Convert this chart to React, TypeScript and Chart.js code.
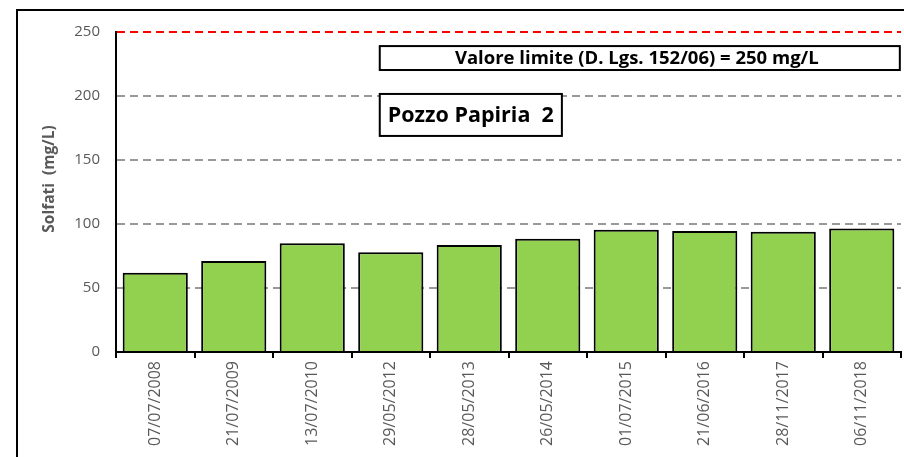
import React, { useEffect, useRef } from 'react';
import { Chart, registerables } from 'chart.js';

Chart.register(...registerables);

const categories = [
  '07/07/2008', '21/07/2009', '13/07/2010', '29/05/2012', '28/05/2013',
  '26/05/2014', '01/07/2015', '21/06/2016', '28/11/2017', '06/11/2018',
];
const solfati = [62, 71, 85, 78, 83.5, 88.5, 95.5, 94.5, 94, 96.5];
const yMin = 0;
const yMax = 250;
const yStep = 50;
const limitValue = 250;
const limitLabel = 'Valore limite (D. Lgs. 152/06) = 250 mg/L';
const wellLabel = 'Pozzo Papiria  2';
const yTitle = 'Solfati  (mg/L)';

const FONT = '"Open Sans", "Noto Sans", sans-serif';

const framePlugin = {
  id: 'frame',
  beforeDraw(chart: any) {
    const { ctx, width, height } = chart;
    ctx.save();
    ctx.fillStyle = '#ffffff';
    ctx.fillRect(0, 0, width, height);
    ctx.strokeStyle = '#000000';
    ctx.lineWidth = 2;
    ctx.beginPath();
    ctx.moveTo(17, height + 5);
    ctx.lineTo(17, 10);
    ctx.lineTo(width + 5, 10);
    ctx.stroke();
    ctx.restore();
  },
};

const boxesPlugin = {
  id: 'boxes',
  afterDraw(chart: any) {
    const { ctx, chartArea, scales } = chart;
    const y = scales.y;
    const w = chartArea.right - chartArea.left;
    const fx = (f: number) => chartArea.left + f * w;
    ctx.save();
    // y axis title
    ctx.save();
    ctx.translate(50, (chartArea.top + chartArea.bottom) / 2 - 13);
    ctx.rotate(-Math.PI / 2);
    ctx.fillStyle = '#595959';
    ctx.font = `bold 15.5px ${FONT}`;
    ctx.textAlign = 'center';
    ctx.textBaseline = 'middle';
    ctx.fillText(yTitle, 0, 0);
    ctx.restore();

    ctx.lineWidth = 2;
    ctx.strokeStyle = '#000';
    ctx.fillStyle = '#fff';
    // limit box
    let x1 = fx(0.336), x2 = fx(0.9985);
    let y1 = y.getPixelForValue(239), y2 = y.getPixelForValue(220.3);
    ctx.fillRect(x1, y1, x2 - x1, y2 - y1);
    ctx.strokeRect(x1, y1, x2 - x1, y2 - y1);
    ctx.fillStyle = '#000';
    ctx.font = `bold 18.5px ${FONT}`;
    ctx.textAlign = 'center';
    ctx.textBaseline = 'middle';
    ctx.fillText(limitLabel, (x1 + x2) / 2 - 3, (y1 + y2) / 2 + 1);
    // well box
    x1 = fx(0.336); x2 = fx(0.568);
    y1 = y.getPixelForValue(201.6); y2 = y.getPixelForValue(168.8);
    ctx.fillStyle = '#fff';
    ctx.fillRect(x1, y1, x2 - x1, y2 - y1);
    ctx.strokeRect(x1, y1, x2 - x1, y2 - y1);
    ctx.fillStyle = '#000';
    ctx.font = `bold 21.5px ${FONT}`;
    ctx.textAlign = 'left';
    ctx.fillText(wellLabel, x1 + 8, (y1 + y2) / 2 + 1);
    ctx.restore();
  },
};

export default function App() {
  const ref = useRef<HTMLCanvasElement>(null);
  useEffect(() => {
    const canvas = ref.current!;
    const chart = new Chart(canvas, {
      type: 'bar',
      data: {
        labels: categories,
        datasets: [
          {
            data: solfati,
            backgroundColor: '#92D050',
            borderColor: '#000000',
            borderWidth: 2,
            barPercentage: 0.83,
            categoryPercentage: 1,
          },
        ],
      },
      options: {
        responsive: false,
        animation: false,
        layout: { padding: { left: 20, top: 32, right: 3, bottom: 0 } },
        plugins: { legend: { display: false }, tooltip: { enabled: false } },
        scales: {
          x: {
            type: 'category',
            afterFit(scale: any) { scale.height = 105; },
            grid: {
              offset: true,
              drawOnChartArea: false,
              drawTicks: true,
              tickLength: 6,
              color: '#000000',
              lineWidth: 2,
            },
            border: { display: true, color: '#000000', width: 2 },
            ticks: {
              maxRotation: 90,
              minRotation: 90,
              color: '#595959',
              font: { family: FONT, size: 16 },
              padding: 3,
              autoSkip: false,
            },
          },
          y: {
            min: yMin,
            max: yMax,
            afterFit(scale: any) { scale.width = 96; },
            ticks: {
              stepSize: yStep,
              color: '#595959',
              font: { family: FONT, size: 15 },
              padding: 16,
            },
            grid: {
              drawTicks: false,
              lineWidth: 2,
              color: (ctx: any) =>
                ctx.tick && ctx.tick.value === limitValue
                  ? '#FF0000'
                  : ctx.tick && ctx.tick.value === 0
                  ? 'rgba(0,0,0,0)'
                  : '#999999',
            },
            border: { display: true, color: '#000000', width: 2, dash: [8, 5] },
          },
        },
      },
      plugins: [framePlugin, boxesPlugin],
    } as any);
    return () => chart.destroy();
  }, []);
  return (
    <div style={{ position: 'fixed', left: 0, top: 0, width: 904, height: 457, background: '#fff' }}>
      <canvas ref={ref} width={904} height={457} style={{ display: 'block', width: 904, height: 457 }} />
    </div>
  );
}
